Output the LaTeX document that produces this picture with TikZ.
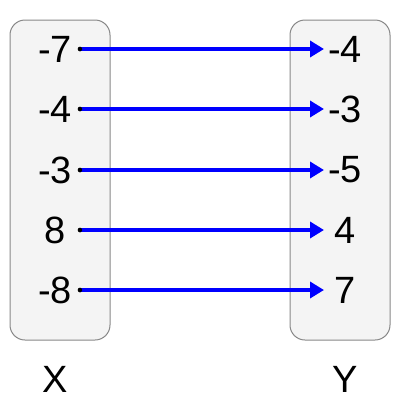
\documentclass[tikz,border=0pt]{standalone}
\usepackage{fontspec}
\setmainfont{Liberation Sans}
\usetikzlibrary{arrows.meta}
\definecolor{boxfill}{HTML}{F4F4F4}
\definecolor{boxline}{HTML}{888888}
\begin{document}
\begin{tikzpicture}[x=1pt,y=-1pt,
  setbox/.style={draw=boxline,fill=boxfill,line width=1pt,rounded corners=15pt},
  num/.style={font=\fontsize{38}{40}\selectfont,inner sep=0pt,anchor=center},
  maparrow/.style={draw=blue,line width=4pt,-{Triangle[length=14pt,width=16pt]}},
  startdot/.style={circle,fill=black,inner sep=0pt,minimum size=4.5pt}]
\useasboundingbox (0,0) rectangle (400,400);
\draw[setbox] (10,20) rectangle (110,340);
\draw[setbox] (290,20) rectangle (390,340);
\foreach \i/\a/\b/\y in {1/-7/-4/49,2/-4/-3/109,3/-3/-5/170,4/8/4/230,5/-8/7/290}{
  \node[num] (l\i) at (55,\y) {\a};
  \node[num] (r\i) at (345,\y) {\b};
  \node[startdot] (s\i) at (80,\y) {};
  \coordinate (e\i) at (324,\y);
  \draw[maparrow] (s\i.center) -- (e\i);
  \node[startdot] at (s\i) {};
}
\node[num] (X) at (55,379) {X};
\node[num] (Y) at (345,379) {Y};
\end{tikzpicture}
\end{document}
